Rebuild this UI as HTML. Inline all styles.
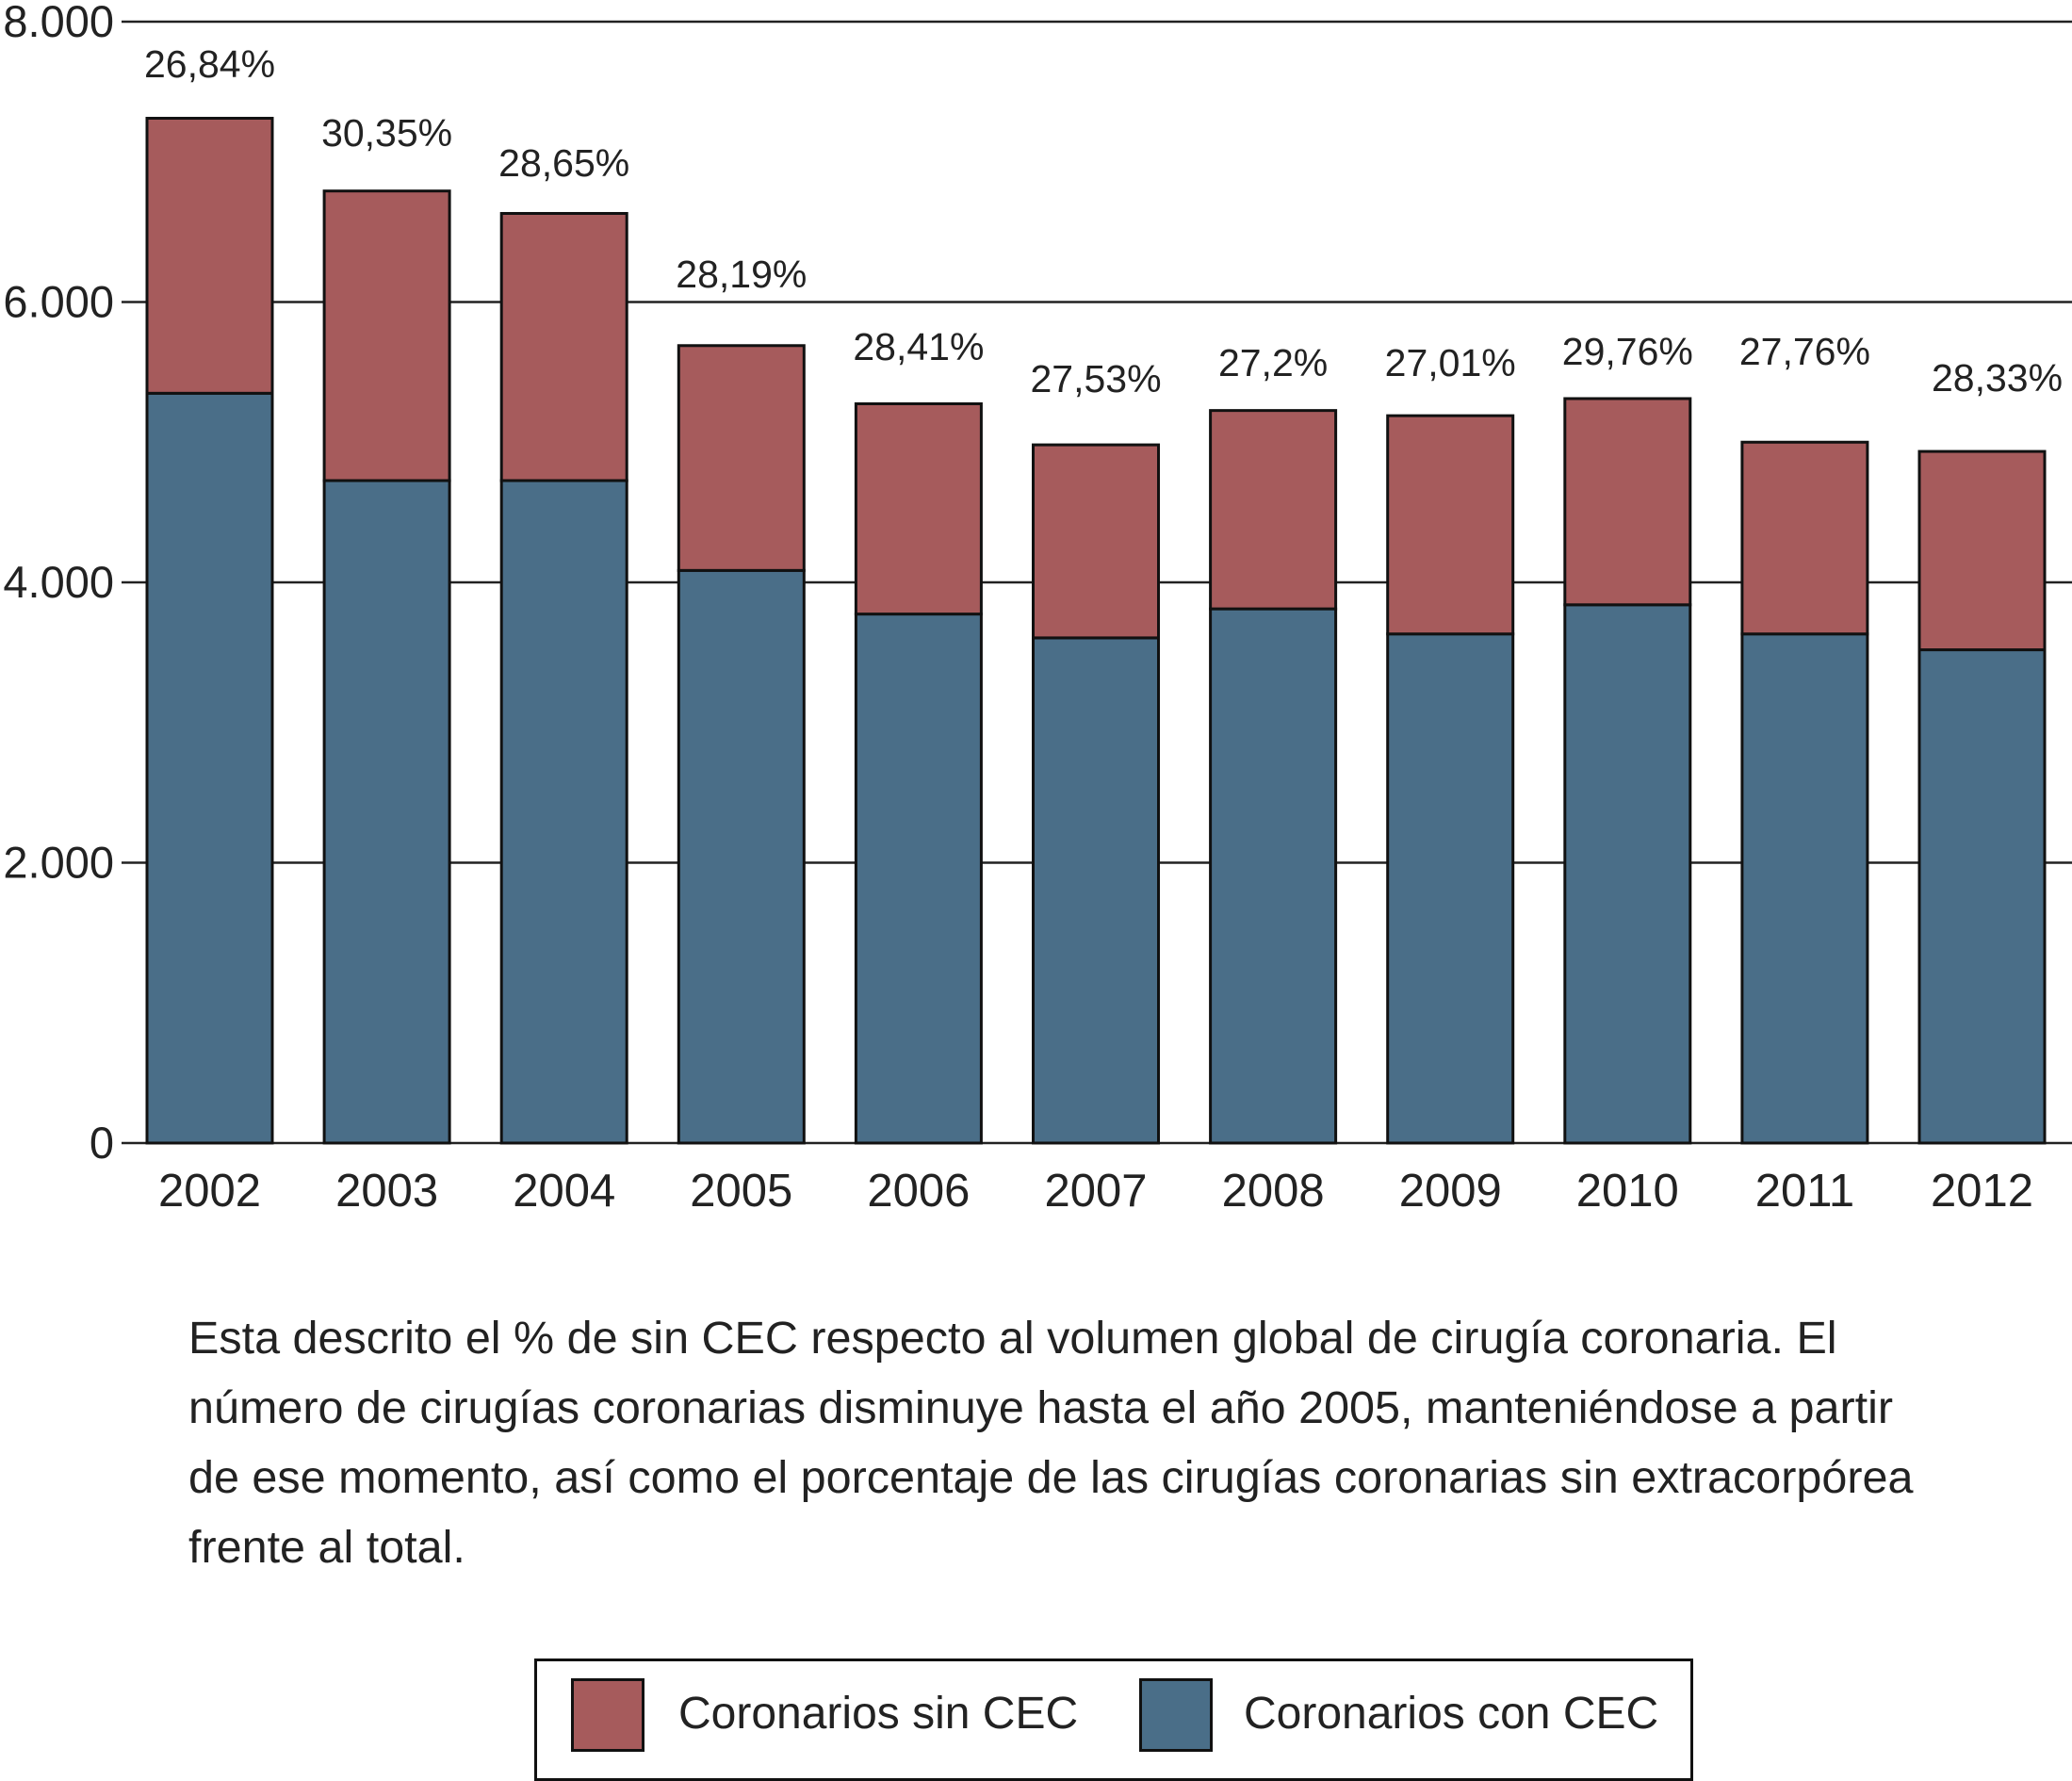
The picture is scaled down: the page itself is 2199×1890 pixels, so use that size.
<!DOCTYPE html>
<html><head><meta charset="utf-8"><style>
body{margin:0;background:#fff;}
svg{display:block;font-family:"Liberation Sans",sans-serif;}
</style></head><body>
<svg id="chart" width="2199" height="1884" viewBox="0 0 2199 1884"></svg>
<script>
const years=["2002","2003","2004","2005","2006","2007","2008","2009","2010","2011","2012"];
const conCEC=[5349,4726,4726,4085,3774,3604,3811,3632,3840,3632,3519];
const sinCEC=[1962,2066,1906,1604,1500,1377,1415,1557,1471,1368,1415];
const pctLabels=["26,84%","30,35%","28,65%","28,19%","28,41%","27,53%","27,2%","27,01%","29,76%","27,76%","28,33%"];
const pctLabelY=[68,141,173,291,368,402,385,385,373,373,401];
const yTicks=[0,2000,4000,6000,8000];
const yTickLabels=["0","2.000","4.000","6.000","8.000"];

const NS="http://www.w3.org/2000/svg";
const svg=document.getElementById('chart');
const y0=1213,y1=23,left=129;
const yS=v=>y0-(v/8000)*(y0-y1);
const bw=133,pitch=188.1,bx0=156;
const xS=i=>bx0+i*pitch;
function mk(t,a,p){const e=document.createElementNS(NS,t);for(const k in a)e.setAttribute(k,a[k]);(p||svg).appendChild(e);return e;}

yTicks.forEach((v,i)=>{
  const l=mk('line',{x1:left,x2:2199,y1:yS(v),y2:yS(v),stroke:'#222','stroke-width':2.5});
  
  
  const t=mk('text',{x:121,y:yS(v)+16,'text-anchor':'end','font-size':47,fill:'#222'});
  t.textContent=yTickLabels[i];
  
  
});
years.forEach((yr,i)=>{
  const x=xS(i);
  const b=mk('rect',{x:x,y:yS(conCEC[i]),width:bw,height:y0-yS(conCEC[i]),fill:'#4a6e88',stroke:'#111','stroke-width':3});
  
  
  const tot=conCEC[i]+sinCEC[i];
  const r=mk('rect',{x:x,y:yS(tot),width:bw,height:yS(conCEC[i])-yS(tot),fill:'#a65b5c',stroke:'#111','stroke-width':3});
  
  
  const p=mk('text',{x:x+bw/2+(i==10?16:0),y:pctLabelY[i]+14,'text-anchor':'middle','font-size':41,fill:'#222'});
  p.textContent=pctLabels[i];
  
  
  const t=mk('text',{x:x+bw/2,y:1280,'text-anchor':'middle','font-size':49,fill:'#222'});
  t.textContent=yr;
  
  
});
</script>
<div style="position:absolute;left:200px;top:1383px;width:1990px;font-family:'Liberation Sans',sans-serif;font-size:48.5px;line-height:74px;color:#222;white-space:nowrap;">
Esta descrito el % de sin CEC respecto al volumen global de cirugía coronaria. El<br>número de cirugías coronarias disminuye hasta el año 2005, manteniéndose a partir<br>de ese momento, así como el porcentaje de las cirugías coronarias sin extracorpórea<br>frente al total.
</div>
<div style="position:absolute;left:567px;top:1760px;width:1230px;height:130px;border:3px solid #111;box-sizing:border-box;font-family:'Liberation Sans',sans-serif;font-size:48px;color:#222;">
  <div style="position:absolute;left:36px;top:18px;width:78px;height:78px;background:#a65b5c;border:3px solid #111;box-sizing:border-box;"></div>
  <div style="position:absolute;left:150px;top:28px;">Coronarios sin CEC</div>
  <div style="position:absolute;left:639px;top:18px;width:78px;height:78px;background:#4a6e88;border:3px solid #111;box-sizing:border-box;"></div>
  <div style="position:absolute;left:750px;top:28px;">Coronarios con CEC</div>
</div>
</body></html>
